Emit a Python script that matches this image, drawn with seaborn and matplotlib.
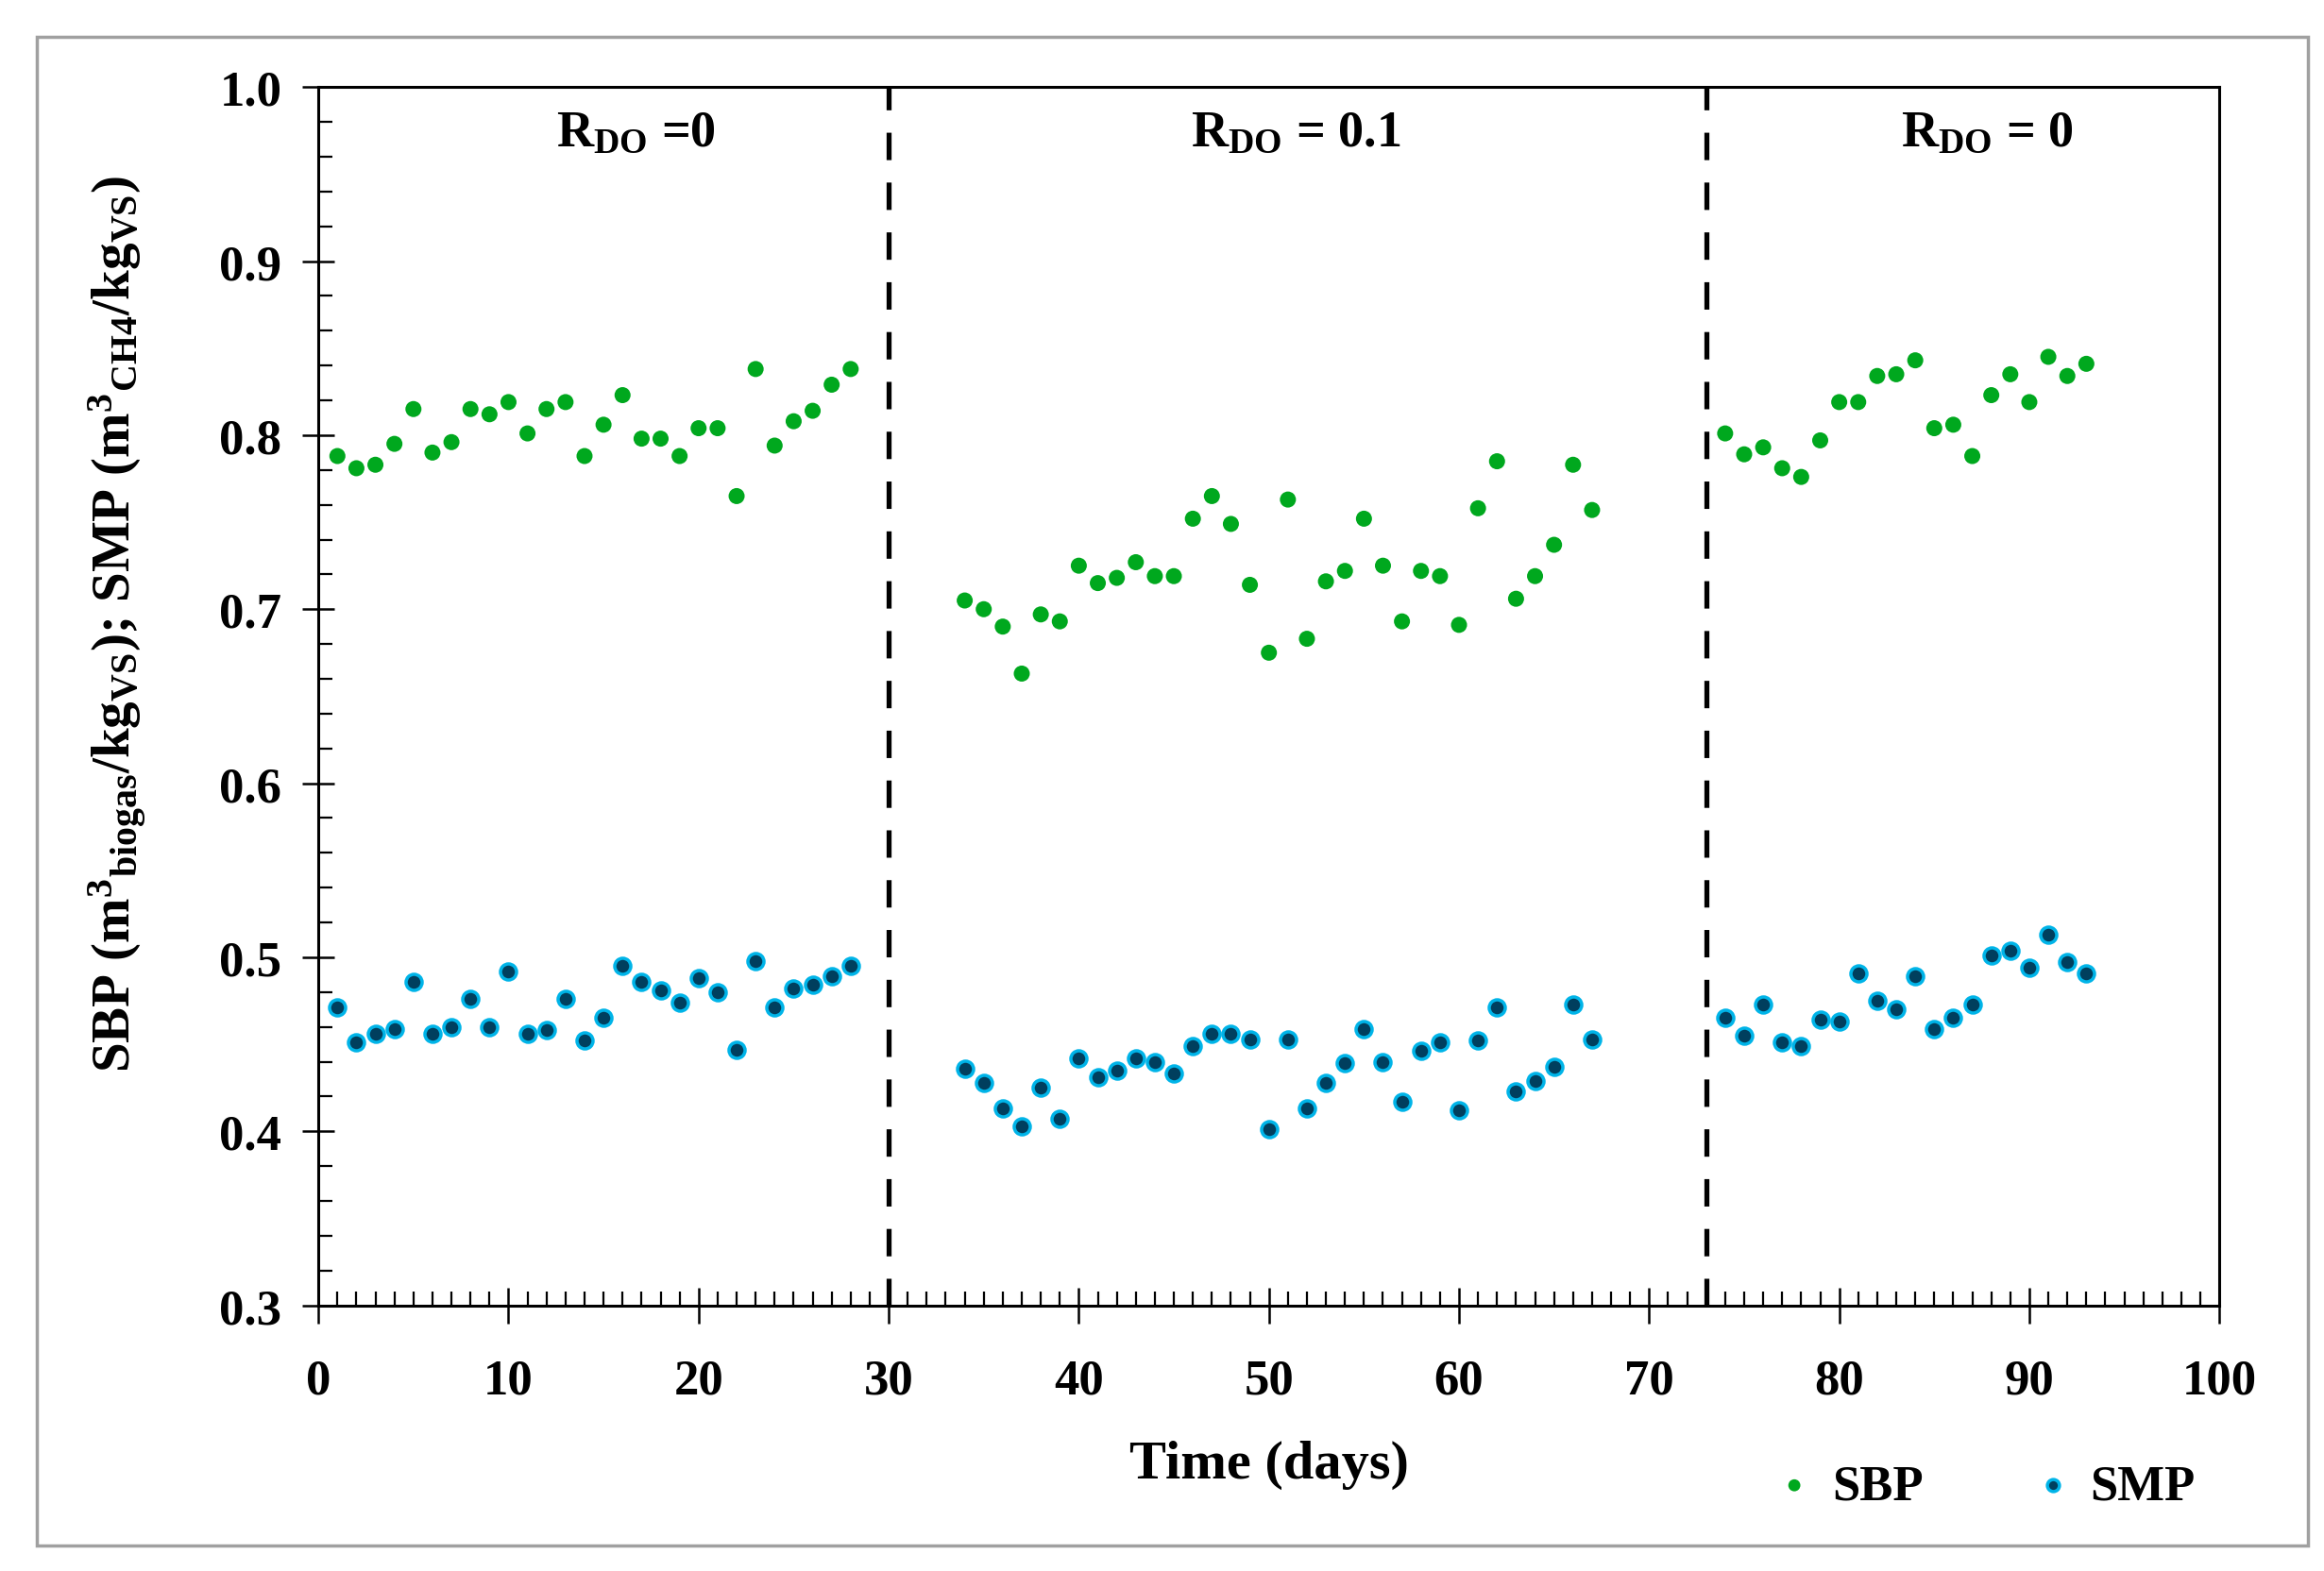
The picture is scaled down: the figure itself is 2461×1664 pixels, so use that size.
import numpy as np
import pandas as pd
import matplotlib
matplotlib.use("Agg")
import matplotlib.pyplot as plt
import seaborn as sns
from matplotlib.ticker import MultipleLocator, FormatStrFormatter
from matplotlib.patches import Rectangle

# days and values
days_p1 = list(range(1, 29))
days_p2 = list(range(34, 68))
days_p3 = list(range(74, 94))

sbp_p1 = [0.788, 0.781, 0.783, 0.795, 0.815, 0.790, 0.796, 0.815, 0.812, 0.819,
          0.801, 0.815, 0.819, 0.788, 0.806, 0.823, 0.798, 0.798, 0.788, 0.804,
          0.804, 0.765, 0.838, 0.794, 0.808, 0.814, 0.829, 0.838]
sbp_p2 = [0.705, 0.700, 0.690, 0.663, 0.697, 0.693, 0.725, 0.715, 0.718, 0.727,
          0.719, 0.719, 0.752, 0.765, 0.749, 0.714, 0.675, 0.763, 0.683, 0.716,
          0.722, 0.752, 0.725, 0.693, 0.722, 0.719, 0.691, 0.758, 0.785, 0.706,
          0.719, 0.737, 0.783, 0.757]
sbp_p3 = [0.801, 0.789, 0.793, 0.781, 0.776, 0.797, 0.819, 0.819, 0.834, 0.835,
          0.843, 0.804, 0.806, 0.788, 0.823, 0.835, 0.819, 0.845, 0.834, 0.841]

smp_p1 = [0.471, 0.451, 0.456, 0.459, 0.486, 0.456, 0.460, 0.476, 0.460, 0.492,
          0.456, 0.458, 0.476, 0.452, 0.465, 0.495, 0.486, 0.481, 0.474, 0.488,
          0.480, 0.447, 0.498, 0.471, 0.482, 0.484, 0.489, 0.495]
smp_p2 = [0.436, 0.428, 0.413, 0.403, 0.425, 0.407, 0.442, 0.431, 0.435, 0.442,
          0.440, 0.433, 0.449, 0.456, 0.456, 0.453, 0.401, 0.453, 0.413, 0.428,
          0.439, 0.459, 0.440, 0.417, 0.446, 0.451, 0.412, 0.452, 0.471, 0.423,
          0.429, 0.437, 0.473, 0.453]
smp_p3 = [0.465, 0.455, 0.473, 0.451, 0.449, 0.464, 0.463, 0.491, 0.475, 0.470,
          0.489, 0.459, 0.465, 0.473, 0.501, 0.504, 0.494, 0.513, 0.497, 0.491]

phase_changes = [30, 73]
phase_labels = [r"R$_{DO}$ =0", r"R$_{DO}$ = 0.1", r"R$_{DO}$ = 0"]
phase_label_x = [16.7, 51.4, 87.8]

days = days_p1 + days_p2 + days_p3
df = pd.DataFrame({"day": days,
                   "SBP": sbp_p1 + sbp_p2 + sbp_p3,
                   "SMP": smp_p1 + smp_p2 + smp_p3})

sns.set_style("white")
plt.rcParams["font.family"] = ["Liberation Serif", "DejaVu Serif"]
plt.rcParams["font.weight"] = "bold"
plt.rcParams["text.color"] = "black"
plt.rcParams["axes.labelcolor"] = "black"
plt.rcParams["xtick.color"] = "black"
plt.rcParams["ytick.color"] = "black"
plt.rcParams["mathtext.fontset"] = "custom"
plt.rcParams["mathtext.rm"] = "Liberation Serif:bold"
plt.rcParams["mathtext.bf"] = "Liberation Serif:bold"
plt.rcParams["mathtext.it"] = "Liberation Serif:bold"
plt.rcParams["mathtext.default"] = "bf"

fig = plt.figure(figsize=(24.61, 16.65), dpi=100)
ax = fig.add_axes([0.137, 0.169, 0.818, 0.775])

sns.scatterplot(data=df, x="day", y="SBP", ax=ax, color="#00a81e", s=150,
                edgecolor="none", label="SBP", zorder=3)
sns.scatterplot(data=df, x="day", y="SMP", ax=ax, color="#003f5e", s=150,
                edgecolor="#00b4e8", linewidth=2.5, label="SMP", zorder=3)

for xc in phase_changes:
    ax.axvline(xc, color="black", linestyle=(0, (5.5, 4.5)), linewidth=3.8, zorder=2)

for xt, lab in zip(phase_label_x, phase_labels):
    ax.text(xt, 0.974, lab, ha="center", va="center", fontsize=39, fontweight="bold")

ax.set_xlim(0, 100)
ax.set_ylim(0.3, 1.0)
ax.xaxis.set_major_locator(MultipleLocator(10))
ax.xaxis.set_minor_locator(MultipleLocator(1))
ax.yaxis.set_major_locator(MultipleLocator(0.1))
ax.yaxis.set_minor_locator(MultipleLocator(0.02))
ax.yaxis.set_major_formatter(FormatStrFormatter("%.1f"))
ax.tick_params(axis="x", which="major", direction="inout", length=28, width=1.8,
               labelsize=38, pad=26)
ax.tick_params(axis="y", which="major", direction="inout", length=24, width=1.8,
               labelsize=38, pad=16)
ax.tick_params(axis="both", which="minor", direction="in", length=11, width=1.6)
ax.tick_params(which="both", bottom=True, left=True, top=False, right=False)
for lab in ax.get_xticklabels() + ax.get_yticklabels():
    lab.set_fontweight("bold")
for sp in ax.spines.values():
    sp.set_color("black")
    sp.set_linewidth(2.2)

ax.set_xlabel("Time (days)", fontsize=42, fontweight="bold")
ax.set_ylabel(r"SBP (m$^{3}$$_{biogas}$/kg$_{VS}$); "
              r"SMP (m$^{3}$$_{CH4}$/kg$_{VS}$)",
              fontsize=41, fontweight="bold")
ax.xaxis.set_label_coords(0.5, -0.11)
ax.yaxis.set_label_coords(-0.089, 0.56)

ax.legend(loc="center", bbox_to_anchor=(0.854, 0.054), bbox_transform=fig.transFigure,
          ncol=2, frameon=False, markerscale=0.75, handlelength=0.8, handletextpad=0.35,
          columnspacing=2.2, prop={"weight": "bold", "size": 38})

fig.add_artist(Rectangle((0.016, 0.016), 0.977, 0.96, transform=fig.transFigure,
                         fill=False, edgecolor="#a0a0a0", linewidth=2.5))

fig.savefig("out.png", dpi=100)
